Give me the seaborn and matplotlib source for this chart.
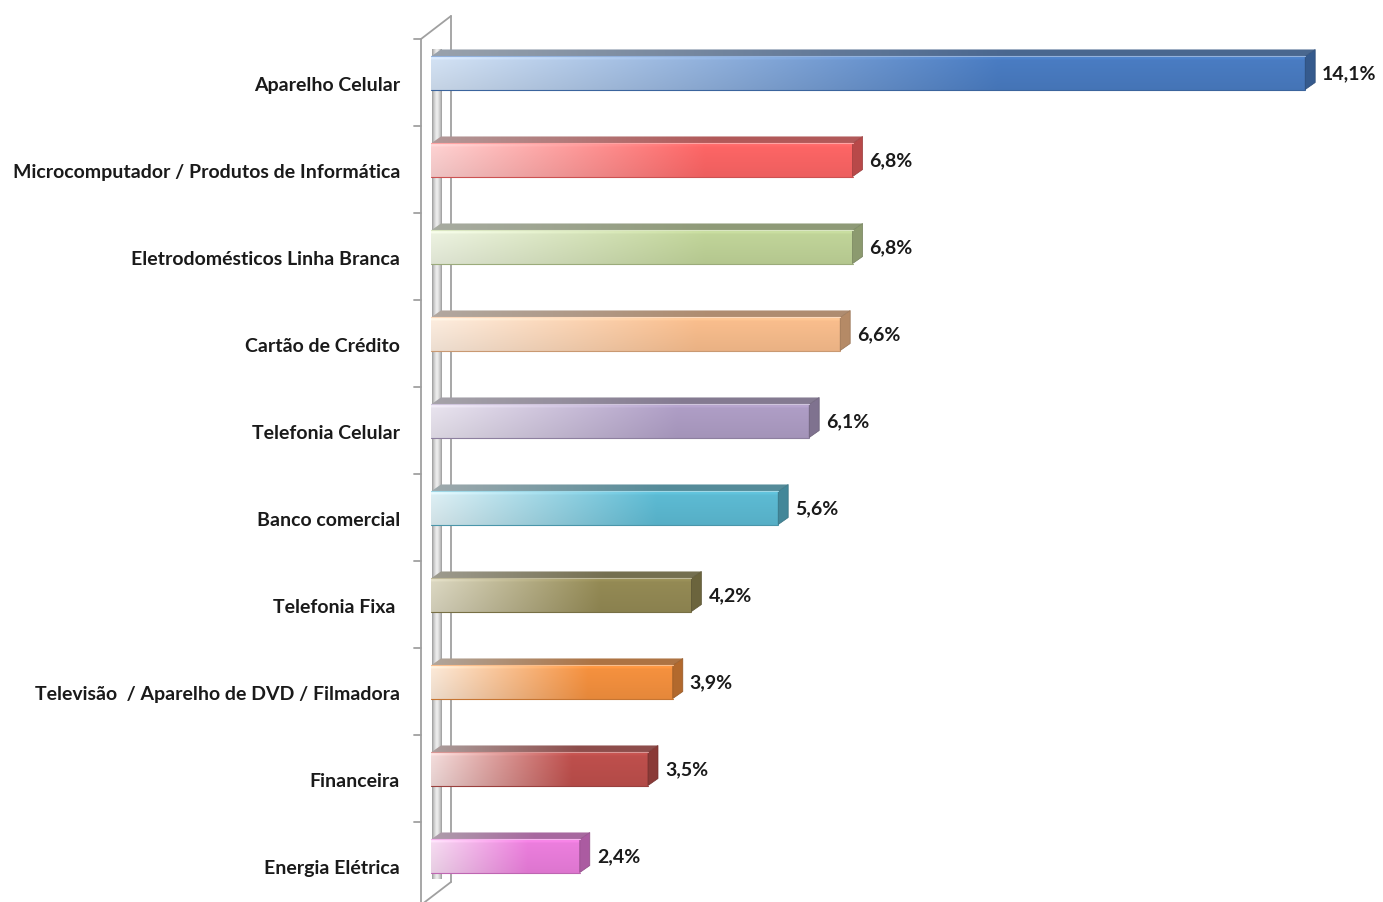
import numpy as np
import matplotlib
matplotlib.use("Agg")
import matplotlib.pyplot as plt
import seaborn as sns
import pandas as pd
from matplotlib.colors import to_rgb
from matplotlib.patches import Polygon
from matplotlib.lines import Line2D
from matplotlib.transforms import ScaledTranslation

categories = [
    "Aparelho Celular",
    "Microcomputador / Produtos de Informática",
    "Eletrodomésticos Linha Branca",
    "Cartão de Crédito",
    "Telefonia Celular",
    "Banco comercial",
    "Telefonia Fixa ",
    "Televisão  / Aparelho de DVD / Filmadora",
    "Financeira",
    "Energia Elétrica",
]
values = [14.1, 6.8, 6.8, 6.6, 6.1, 5.6, 4.2, 3.9, 3.5, 2.4]
light_colors = ["#D4E3F5", "#FFD3D3", "#EEF4E2", "#FEEEE0", "#EAE5F0",
                "#DFF1F6", "#DDD9C3", "#FDEBDA", "#F5DEDD", "#F8DDF3"]
full_colors = ["#4A7DC4", "#FF6666", "#C2D69A", "#FBBF8E", "#B09FC7",
               "#5DBCD5", "#958B55", "#F7923F", "#C0504D", "#EE7FDF"]

W, H = 1383, 903
sns.set_style("white")
plt.rcParams["font.family"] = ["Lato", "DejaVu Sans"]

fig = plt.figure(figsize=(W / 100, H / 100), dpi=100)
fig.patch.set_facecolor("white")

PX = 62.0          # pixels per percentage unit
X0 = 431           # pixel of value 0
top_px, bot_px = 30.5, 900.5
ax = fig.add_axes([421 / W, 1 - bot_px / H, (W - 421) / W, (bot_px - top_px) / H])
ax.patch.set_alpha(0)

df = pd.DataFrame({"category": categories, "value": values})
sns.barplot(data=df, x="value", y="category", hue="category",
            palette=full_colors, legend=False, width=0.38, saturation=1,
            ax=ax, zorder=2)
ax.set_xlim(-(X0 - 421) / PX, (W - X0) / PX)
ax.set_ylim(len(categories) - 0.5, -0.5)

DX = 10 / PX
DY = 7 / ((bot_px - top_px) / len(categories))

def grad(light, full, n=200, knee=0.65):
    t = np.clip(np.linspace(0, 1, n) / knee, 0, 1)
    l = np.array(to_rgb(light)); f = np.array(to_rgb(full))
    return l[None, :] * (1 - t[:, None]) + f[None, :] * t[:, None]

patches = sorted(ax.patches, key=lambda p: p.get_y())
for i, p in enumerate(patches):
    x, y, w, h = p.get_x(), p.get_y(), p.get_width(), p.get_height()
    full = np.array(to_rgb(full_colors[i]))
    g = grad(light_colors[i], full_colors[i])
    ny = 40
    vf = np.linspace(1.0, 0.93, ny)
    vf[1:4] = 1.04
    front = np.clip(g[None, :, :] * vf[:, None, None], 0, 1)
    p.set_alpha(0)
    ax.imshow(front, extent=[x, x + w, y + h, y], aspect="auto",
              origin="upper", zorder=3, interpolation="bilinear")
    edge = np.clip(full * 0.8, 0, 1)
    ax.plot([x, x + w], [y + h, y + h], color=edge, lw=0.8, zorder=4)
    ax.plot([x, x + w], [y, y], color=np.clip(full * 0.6 + 0.4, 0, 1), lw=0.8, zorder=4)
    # top face
    topc = np.clip((g * 0.7 + 0.5 * 0.3) * 0.82, 0, 1)
    top_poly = Polygon([(x, y), (x + w, y), (x + w + DX, y - DY), (x + DX, y - DY)],
                       closed=True, facecolor="none", edgecolor="none", zorder=3)
    ax.add_patch(top_poly)
    im = ax.imshow(topc[None, :, :], extent=[x, x + w + DX, y, y - DY],
                   aspect="auto", origin="upper", zorder=3, interpolation="bilinear")
    im.set_clip_path(top_poly)
    # side face
    side = Polygon([(x + w, y), (x + w + DX, y - DY), (x + w + DX, y + h - DY), (x + w, y + h)],
                   closed=True, facecolor=np.clip(full * 0.72, 0, 1),
                   edgecolor=np.clip(full * 0.6, 0, 1), lw=0.5, zorder=3)
    ax.add_patch(side)

ax.set_xlim(-(X0 - 421) / PX, (W - X0) / PX)
ax.set_ylim(len(categories) - 0.5, -0.5)

for i, v in enumerate(values):
    ax.annotate(f"{v:.1f}".replace(".", ",") + "%", xy=(v, i),
                xytext=(17 * 0.72, 0), textcoords="offset points",
                va="center", ha="left", fontweight="bold", fontsize=14,
                color="#1A1A1A", zorder=5)

ax.set_yticks(range(len(categories)))
ax.set_yticklabels(categories, fontweight="bold", fontsize=14, color="#1A1A1A")
ax.tick_params(axis="y", length=0, pad=21 * 0.72)
shift = ScaledTranslation(0, -10 / 100, fig.dpi_scale_trans)
for lab in ax.get_yticklabels():
    lab.set_transform(lab.get_transform() + shift)
ax.set_xticks([])
ax.set_xlabel("")
ax.set_ylabel("")
for s in ax.spines.values():
    s.set_visible(False)

# wall decoration (figure pixel coordinates)
def fp(px, py):
    return px / W, 1 - py / H

wall = "#A0A0A0"
segs = [((421, 40), (421, 910)), ((451, 17), (451, 883)),
        ((421, 40), (451, 17)), ((451, 883), (421, 906))]
for a, b in segs:
    (xa, ya), (xb, yb) = fp(*a), fp(*b)
    fig.add_artist(Line2D([xa, xb], [ya, yb], color=wall, lw=1.3,
                          transform=fig.transFigure, zorder=-1))
for k in range(11):
    ty = 40 + 87 * k
    (xa, ya), (xb, yb) = fp(414, ty), fp(421, ty)
    fig.add_artist(Line2D([xa, xb], [ya, yb], color=wall, lw=1.3,
                          transform=fig.transFigure, zorder=-1))

# gray shading strip on the wall floor
sx = np.linspace(-1, 1, 10)
shade = 0.93 - 0.28 * np.abs(sx) ** 1.5
strip = np.repeat(shade[None, :], 830, axis=0)
strip_rgb = np.dstack([strip, strip, strip])
fig.figimage(strip_rgb, xo=432, yo=H - 880, origin="upper", zorder=-2)

fig.savefig("out.png", dpi=100, facecolor="white")
